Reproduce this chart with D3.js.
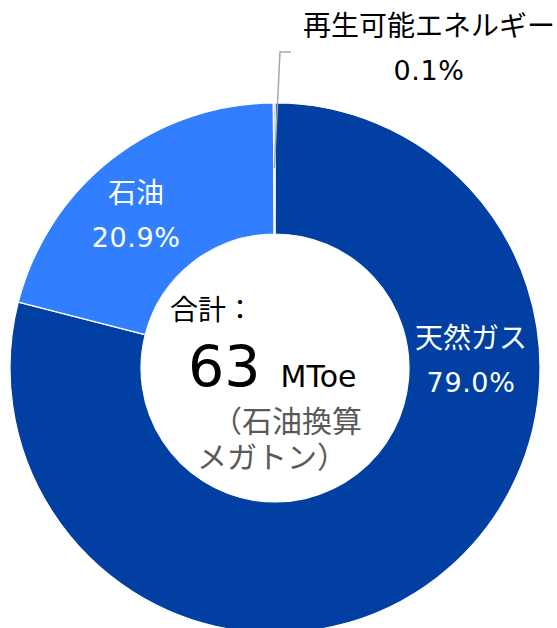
<!DOCTYPE html>
<html>
<head>
<meta charset="utf-8">
<script src="https://cdn.jsdelivr.net/npm/d3@7"></script>
<style>
  html, body { margin: 0; padding: 0; background: #fff; }
  svg { display: block; }
  text { font-family: "DejaVu Sans", "Noto Sans CJK JP", sans-serif; }
</style>
</head>
<body>
<svg id="chart" width="557" height="628"></svg>
<script>
// ---- data ----
const categories = ["天然ガス", "石油", "再生可能エネルギー"];
const shares = [79.0, 20.9, 0.1];
const shareLabels = ["79.0%", "20.9%", "0.1%"];
const totalValue = "63";
const totalUnit = "MToe";
const totalTitle = "合計：";
const unitNote = ["（石油換算", "メガトン）"];

// ---- style / layout ----
const colors = ["#013FA3", "#317FFE", "#A6A6A6"];
const W = 557, H = 628;
const cx = 275, cy = 368, R = 265, r = 134;

const svg = d3.select("#chart");
const g = svg.append("g").attr("transform", `translate(${cx},${cy})`);

const pie = d3.pie().sort(null).value(d => d.v);
const arcs = pie(categories.map((c, i) => ({ c, v: shares[i], i })));
const arc = d3.arc().innerRadius(r).outerRadius(R);

g.selectAll("path.slice").data(arcs).join("path")
  .attr("class", "slice")
  .attr("d", arc)
  .attr("fill", d => colors[d.data.i])
  .attr("stroke", "#fff")
  .attr("stroke-width", 1.2);

// label placement: angle (deg, clockwise from top) and radius, relative to center
const labelPlace = [
  { ang: 90, rad: 196, dy1: -20, dy2: 24, color: "#fff" },
  { ang: 316.8, rad: 203, dy1: -17, dy2: 27, color: "#fff" }
];
const fsName = 28, fsPct = 27;
function twoLine(x, y1, y2, name, pct, color) {
  g.append("text").attr("text-anchor", "middle").attr("fill", color).attr("font-size", fsName)
    .attr("x", x).attr("y", y1).text(name);
  g.append("text").attr("text-anchor", "middle").attr("fill", color).attr("font-size", fsPct)
    .attr("x", x).attr("y", y2).attr("letter-spacing", 0.6).text(pct);
}
labelPlace.forEach((p, i) => {
  const a = p.ang * Math.PI / 180;
  const x = Math.sin(a) * p.rad, y = -Math.cos(a) * p.rad;
  twoLine(x, y + p.dy1, y + p.dy2, categories[i], shareLabels[i], p.color);
});

// renewable label with leader line
const ren = arcs[2];
const midA = (ren.startAngle + ren.endAngle) / 2;
const lineStartR = 200;
const sx = Math.sin(midA) * lineStartR, sy = -Math.cos(midA) * lineStartR;
const lx = 5, ly = 52 - cy;
g.append("polyline")
  .attr("points", `${sx},${sy} ${lx},${ly} ${lx + 11},${ly}`)
  .attr("fill", "none").attr("stroke", "#A6A6A6").attr("stroke-width", 1.5);
twoLine(429 - cx, 36 - cy, 80 - cy, categories[2], shareLabels[2], "#000");

// center text
g.append("text").attr("x", 170 - cx).attr("y", 320 - cy).attr("font-size", 28).attr("fill", "#000").text(totalTitle);
const tv = g.append("text").attr("y", 387 - cy).attr("fill", "#000");
tv.append("tspan").attr("x", 188 - cx).attr("font-size", 57).text(totalValue);
tv.append("tspan").attr("dx", 20).attr("font-size", 30).text(totalUnit);
g.append("text").attr("x", 362 - cx).attr("y", 432 - cy).attr("text-anchor", "end")
  .attr("font-size", 30).attr("fill", "#595959").text(unitNote[0]);
g.append("text").attr("x", 197 - cx).attr("y", 468 - cy)
  .attr("font-size", 30).attr("fill", "#595959").text(unitNote[1]);
</script>
</body>
</html>
